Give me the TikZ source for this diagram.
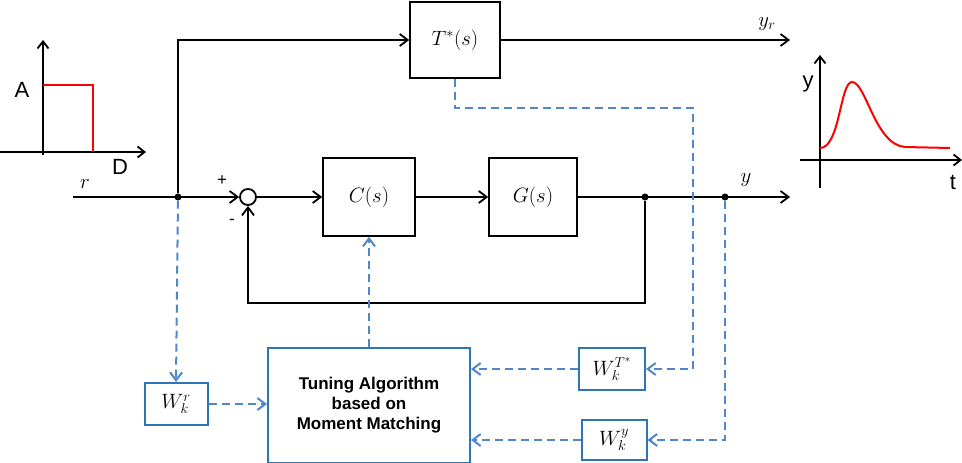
\documentclass[tikz,border=0pt]{standalone}
\usepackage{fontspec}
\setmainfont{Liberation Sans}
\usetikzlibrary{arrows.meta}
\definecolor{bl}{RGB}{46,117,182}
\definecolor{bd}{RGB}{80,135,200}
\newcommand{\fbigx}{\fontsize{22}{26}\selectfont}
\newcommand{\fmidx}{\fontsize{17}{20}\selectfont}
\begin{document}
\begin{tikzpicture}[x=1pt,y=-1pt,
  blk/.style={draw,line width=1.6pt},
  ln/.style={line width=1.8pt,-{Straight Barb[length=8pt,width=12pt,line width=1.8pt]}},
  ds/.style={bd,line width=2pt,dash pattern=on 8pt off 5pt,-{Straight Barb[length=8pt,width=12pt,line width=2pt]}},
  dot/.style={circle,fill,inner sep=2.5pt}]
\useasboundingbox (0,0) rectangle (962,463);
% boxes
\node[blk,minimum width=90pt,minimum height=76pt,font=\fbigx] (T) at (455,40) {$T^*(s)$};
\node[blk,minimum width=92pt,minimum height=78pt,font=\fbigx] (C) at (369,197) {$C(s)$};
\node[blk,minimum width=88pt,minimum height=78pt,font=\fbigx] (G) at (533,197) {$G(s)$};
\node[draw,circle,line width=1.8pt,minimum size=16pt,inner sep=0] (S) at (248,197) {};
\node[draw=bl,line width=2pt,minimum width=202pt,minimum height=115pt,align=center,font=\bfseries\fmidx] (TA) at (369,405) {Tuning Algorithm\\based on\\Moment Matching};
\node[draw=bl,line width=2pt,minimum width=63pt,minimum height=42pt,font=\fbigx] (WR) at (176,404) {$W_k^r$};
\node[draw=bl,line width=2pt,minimum width=66pt,minimum height=42pt,font=\fbigx] (WT) at (612,369) {$W_k^{T^*}$};
\node[draw=bl,line width=2pt,minimum width=65pt,minimum height=40pt,font=\fbigx] (WY) at (614,440) {$W_k^y$};
% points
\node[dot] (B) at (178,197) {};
\node[dot] (P1) at (645,197) {};
\node[dot] (P2) at (725,197) {};
\coordinate (in) at (73,197);
\coordinate (out) at (790,197);
\coordinate (yr) at (790,40);
% signal lines
\draw[ln] (in) -- (S.west);
\draw[ln] (B) |- (T.west);
\draw[ln] (T.east) -- (yr);
\draw[ln] (S.east) -- (C.west);
\draw[ln] (C.east) -- (G.west);
\draw[ln] (G.east) -- (out);
\draw[ln] (P1) -- (645,303) -| (S.south);
\node[font=\fbigx] at (85,184) {$r$};
\node[font=\fmidx] at (222,181) {+};
\node[font=\fmidx] at (232,222) {-};
\node[font=\fbigx] at (746,180) {$y$};
\node[font=\fbigx] at (767,24) {$y_r$};
% blue dashed
\draw[ds] (B) -- (WR.north);
\draw[ds] (WR.east) -- (TA.west |- WR.east);
\draw[ds] (TA.north) -- (C.south);
\draw[ds] (T.south) -- (455,108) -- (693,108) |- (WT.east);
\draw[ds] (P2) |- (WY.east);
\draw[ds] (WT.west) -- (TA.east |- WT.west);
\draw[ds] (WY.west) -- (TA.east |- WY.west);
% left inset
\draw[line width=1.8pt,-{Straight Barb[length=7pt,width=11pt,line width=1.8pt]}] (43,155) -- (43,40);
\draw[line width=1.8pt,-{Straight Barb[length=7pt,width=11pt,line width=1.8pt]}] (0,152) -- (146,152);
\draw[red,line width=1.6pt] (43,85) -- (93,85) -- (93,152);
\node[font=\fbigx] at (22,90) {A};
\node[font=\fbigx] at (120,167) {D};
% right inset
\draw[line width=1.8pt,-{Straight Barb[length=7pt,width=11pt,line width=1.8pt]}] (820,188) -- (820,55);
\draw[line width=1.8pt,-{Straight Barb[length=7pt,width=11pt,line width=1.8pt]}] (800,160) -- (962,160);
\draw[red,line width=2pt] (820,148) .. controls (840,148) and (840,82) .. (852,82) .. controls (866,82) and (875,145) .. (905,147) -- (950,148);
\node[font=\fbigx] at (808,84) {y};
\node[font=\fbigx] at (953,182) {t};
\end{tikzpicture}
\end{document}
